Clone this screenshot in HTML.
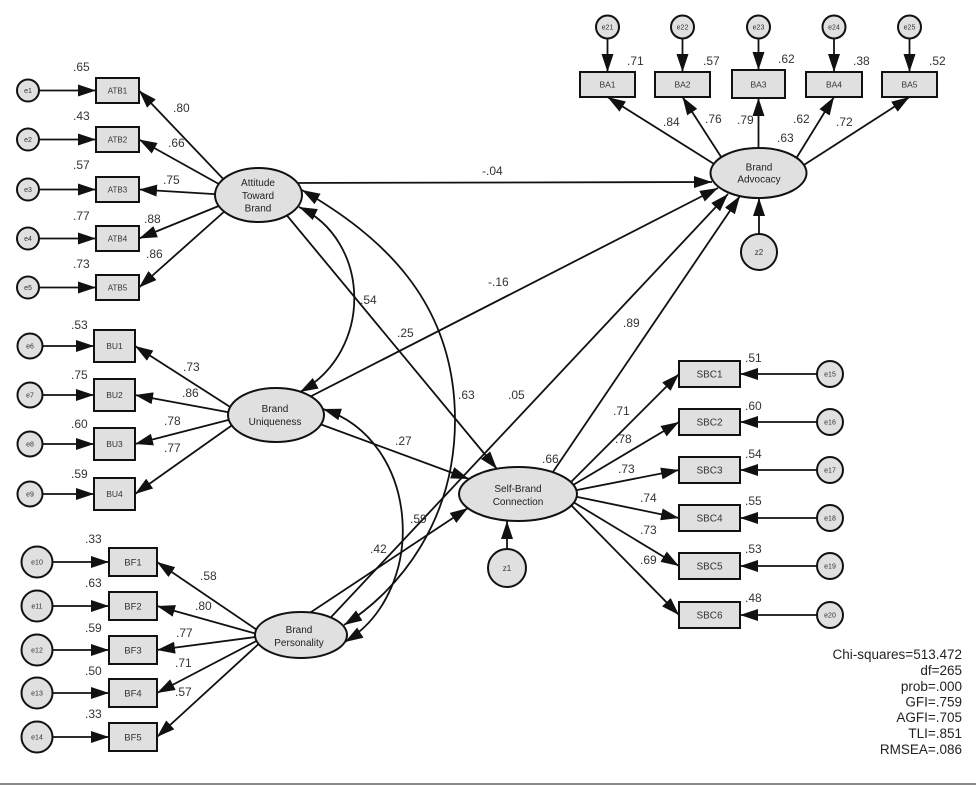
<!DOCTYPE html>
<html>
<head>
<meta charset="utf-8">
<style>
html,body{margin:0;padding:0;background:#fff;}
svg{display:block;}
text{font-family:"Liberation Sans",Arial,sans-serif;}
</style>
</head>
<body>
<svg width="976" height="786" viewBox="0 0 976 786" xmlns="http://www.w3.org/2000/svg">
<defs>
<marker id="ah" viewBox="0 0 18 12" refX="18" refY="6" markerWidth="18" markerHeight="12" markerUnits="userSpaceOnUse" orient="auto-start-reverse">
<path d="M0,0L18,6L0,12z" fill="#111"/>
</marker>
</defs>
<rect x="0" y="0" width="976" height="786" fill="#fff"/>

<!-- straight connectors (drawn under nodes) -->
<g stroke="#111" stroke-width="1.8" fill="none" marker-end="url(#ah)">
<!-- error -> ATB -->
<line x1="28" y1="90.5" x2="96" y2="90.5"/>
<line x1="28" y1="139.5" x2="96" y2="139.5"/>
<line x1="28" y1="189.5" x2="96" y2="189.5"/>
<line x1="28" y1="238.5" x2="96" y2="238.5"/>
<line x1="28" y1="287.5" x2="96" y2="287.5"/>
<!-- error -> BU -->
<line x1="30" y1="346" x2="94" y2="346"/>
<line x1="30" y1="395" x2="94" y2="395"/>
<line x1="30" y1="444" x2="94" y2="444"/>
<line x1="30" y1="494" x2="94" y2="494"/>
<!-- error -> BF -->
<line x1="37" y1="562" x2="109" y2="562"/>
<line x1="37" y1="606" x2="109" y2="606"/>
<line x1="37" y1="650" x2="109" y2="650"/>
<line x1="37" y1="693" x2="109" y2="693"/>
<line x1="37" y1="737" x2="109" y2="737"/>
<!-- error -> SBC -->
<line x1="830" y1="374" x2="740" y2="374"/>
<line x1="830" y1="422" x2="740" y2="422"/>
<line x1="830" y1="470" x2="740" y2="470"/>
<line x1="830" y1="518" x2="740" y2="518"/>
<line x1="830" y1="566" x2="740" y2="566"/>
<line x1="830" y1="615" x2="740" y2="615"/>
<!-- error -> BA -->
<line x1="607.5" y1="27" x2="607.5" y2="72"/>
<line x1="682.5" y1="27" x2="682.5" y2="72"/>
<line x1="758.5" y1="27" x2="758.5" y2="70"/>
<line x1="834" y1="27" x2="834" y2="72"/>
<line x1="909.5" y1="27" x2="909.5" y2="72"/>

<!-- ATB loadings -->
<line x1="229" y1="185" x2="139" y2="90.5"/>
<line x1="226" y1="188" x2="139" y2="139.5"/>
<line x1="223" y1="194.6" x2="139" y2="189.5"/>
<line x1="226" y1="203" x2="139" y2="238.5"/>
<line x1="230.5" y1="206" x2="139" y2="287.5"/>
<!-- BU loadings -->
<line x1="238" y1="412" x2="135" y2="346"/>
<line x1="238" y1="414" x2="135" y2="395"/>
<line x1="238" y1="417.5" x2="135" y2="444"/>
<line x1="238" y1="421" x2="135" y2="494"/>
<!-- BF loadings -->
<line x1="266" y1="636" x2="157" y2="562"/>
<line x1="264" y1="636" x2="157" y2="606"/>
<line x1="263" y1="636" x2="157" y2="650"/>
<line x1="264" y1="637" x2="157" y2="693"/>
<line x1="264" y1="639" x2="157" y2="737"/>
<!-- SBC loadings -->
<line x1="566" y1="487" x2="679" y2="374"/>
<line x1="566.4" y1="489" x2="679" y2="422"/>
<line x1="567" y1="492" x2="679" y2="470"/>
<line x1="568" y1="495" x2="679" y2="518"/>
<line x1="566.5" y1="498" x2="679" y2="566"/>
<line x1="566" y1="500" x2="679" y2="615"/>
<!-- BA loadings -->
<line x1="720.5" y1="168" x2="607.5" y2="97"/>
<line x1="725" y1="163" x2="682.5" y2="97"/>
<line x1="758.5" y1="158" x2="758.5" y2="98"/>
<line x1="793" y1="163.5" x2="834" y2="97"/>
<line x1="798.6" y1="168.4" x2="909.5" y2="97"/>

<!-- structural paths -->
<line x1="285" y1="183" x2="712" y2="182"/>
<line x1="270" y1="195" x2="497" y2="469"/>
<line x1="290" y1="407" x2="718" y2="188"/>
<line x1="319" y1="630" x2="728" y2="194"/>
<line x1="538" y1="494" x2="740" y2="196"/>
<line x1="290" y1="413" x2="469" y2="479"/>
<line x1="284" y1="630" x2="468" y2="508"/>
<line x1="507" y1="568" x2="507" y2="521"/>
<line x1="759" y1="252" x2="759" y2="198"/>
</g>

<!-- nodes -->
<g fill="#e0e0e0" stroke="#111" stroke-width="2">
<!-- ATB -->
<circle cx="28" cy="90.5" r="11"/>
<circle cx="28" cy="139.5" r="11"/>
<circle cx="28" cy="189.5" r="11"/>
<circle cx="28" cy="238.5" r="11"/>
<circle cx="28" cy="287.5" r="11"/>
<rect x="96" y="78" width="43" height="25"/>
<rect x="96" y="127" width="43" height="25"/>
<rect x="96" y="177" width="43" height="25"/>
<rect x="96" y="226" width="43" height="25"/>
<rect x="96" y="275" width="43" height="25"/>
<ellipse cx="258.5" cy="195" rx="43.5" ry="27"/>
<!-- BU -->
<circle cx="30" cy="346" r="12.5"/>
<circle cx="30" cy="395" r="12.5"/>
<circle cx="30" cy="444" r="12.5"/>
<circle cx="30" cy="494" r="12.5"/>
<rect x="94" y="330" width="41" height="32"/>
<rect x="94" y="379" width="41" height="32"/>
<rect x="94" y="428" width="41" height="32"/>
<rect x="94" y="478" width="41" height="32"/>
<ellipse cx="276" cy="415" rx="48" ry="27"/>
<!-- BF -->
<circle cx="37" cy="562" r="15.5"/>
<circle cx="37" cy="606" r="15.5"/>
<circle cx="37" cy="650" r="15.5"/>
<circle cx="37" cy="693" r="15.5"/>
<circle cx="37" cy="737" r="15.5"/>
<rect x="109" y="548" width="48" height="28"/>
<rect x="109" y="592" width="48" height="28"/>
<rect x="109" y="636" width="48" height="28"/>
<rect x="109" y="679" width="48" height="28"/>
<rect x="109" y="723" width="48" height="28"/>
<ellipse cx="301" cy="635" rx="46" ry="23"/>
<!-- SBC -->
<ellipse cx="518" cy="494" rx="59" ry="27"/>
<circle cx="507" cy="568" r="19"/>
<rect x="679" y="361" width="61" height="26"/>
<rect x="679" y="409" width="61" height="26"/>
<rect x="679" y="457" width="61" height="26"/>
<rect x="679" y="505" width="61" height="26"/>
<rect x="679" y="553" width="61" height="26"/>
<rect x="679" y="602" width="61" height="26"/>
<circle cx="830" cy="374" r="13"/>
<circle cx="830" cy="422" r="13"/>
<circle cx="830" cy="470" r="13"/>
<circle cx="830" cy="518" r="13"/>
<circle cx="830" cy="566" r="13"/>
<circle cx="830" cy="615" r="13"/>
<!-- BA -->
<circle cx="607.5" cy="27" r="11.5"/>
<circle cx="682.5" cy="27" r="11.5"/>
<circle cx="758.5" cy="27" r="11.5"/>
<circle cx="834" cy="27" r="11.5"/>
<circle cx="909.5" cy="27" r="11.5"/>
<rect x="580" y="72" width="55" height="25"/>
<rect x="655" y="72" width="55" height="25"/>
<rect x="732" y="70" width="53" height="28"/>
<rect x="806" y="72" width="56" height="25"/>
<rect x="882" y="72" width="55" height="25"/>
<ellipse cx="758.5" cy="173" rx="48" ry="25"/>
<circle cx="759" cy="252" r="18"/>
</g>

<!-- correlation curves -->
<g stroke="#111" stroke-width="1.8" fill="none" marker-start="url(#ah)" marker-end="url(#ah)">
<path d="M299,207 C370,240 375,350 300,392"/>
<path d="M302,190 C380,235 455,300 455,420 C455,520 400,590 344,625"/>
<path d="M323,409 C420,440 430,590 345,642"/>
</g>

<!-- node labels -->
<g fill="#333" text-anchor="middle">
<g font-size="7">
<text x="28" y="93">e1</text>
<text x="28" y="142">e2</text>
<text x="28" y="192">e3</text>
<text x="28" y="241">e4</text>
<text x="28" y="290">e5</text>
<text x="30" y="348.5">e6</text>
<text x="30" y="397.5">e7</text>
<text x="30" y="446.5">e8</text>
<text x="30" y="496.5">e9</text>
<text x="37" y="564.5">e10</text>
<text x="37" y="608.5">e11</text>
<text x="37" y="652.5">e12</text>
<text x="37" y="695.5">e13</text>
<text x="37" y="739.5">e14</text>
<text x="830" y="376.5">e15</text>
<text x="830" y="424.5">e16</text>
<text x="830" y="472.5">e17</text>
<text x="830" y="520.5">e18</text>
<text x="830" y="568.5">e19</text>
<text x="830" y="617.5">e20</text>
<text x="607.5" y="29.5">e21</text>
<text x="682.5" y="29.5">e22</text>
<text x="758.5" y="29.5">e23</text>
<text x="834" y="29.5">e24</text>
<text x="909.5" y="29.5">e25</text>
</g>
<g font-size="8">
<text x="507" y="571">z1</text>
<text x="759" y="255">z2</text>
<text x="117.5" y="93.5">ATB1</text>
<text x="117.5" y="142.5">ATB2</text>
<text x="117.5" y="192.5">ATB3</text>
<text x="117.5" y="241.5">ATB4</text>
<text x="117.5" y="290.5">ATB5</text>
</g>
<g font-size="8.5">
<text x="114.5" y="349">BU1</text>
<text x="114.5" y="398">BU2</text>
<text x="114.5" y="447">BU3</text>
<text x="114.5" y="497">BU4</text>
<text x="607.5" y="87.5">BA1</text>
<text x="682.5" y="87.5">BA2</text>
<text x="758.5" y="87.5">BA3</text>
<text x="834" y="87.5">BA4</text>
<text x="909.5" y="87.5">BA5</text>
</g>
<g font-size="9.5">
<text x="133" y="565.5">BF1</text>
<text x="133" y="609.5">BF2</text>
<text x="133" y="653.5">BF3</text>
<text x="133" y="696.5">BF4</text>
<text x="133" y="740.5">BF5</text>
</g>
<g font-size="10">
<text x="709.5" y="377.5">SBC1</text>
<text x="709.5" y="425.5">SBC2</text>
<text x="709.5" y="473.5">SBC3</text>
<text x="709.5" y="521.5">SBC4</text>
<text x="709.5" y="569.5">SBC5</text>
<text x="709.5" y="618.5">SBC6</text>
</g>
<g font-size="10" fill="#222">
<text x="258" y="186">Attitude</text>
<text x="258" y="199">Toward</text>
<text x="258" y="211.5">Brand</text>
<text x="275" y="412">Brand</text>
<text x="275" y="425">Uniqueness</text>
<text x="299" y="633">Brand</text>
<text x="299" y="646">Personality</text>
<text x="518" y="492">Self-Brand</text>
<text x="518" y="505">Connection</text>
<text x="759" y="170.5">Brand</text>
<text x="759" y="182.5">Advocacy</text>
</g>
</g>

<!-- coefficient labels -->
<g fill="#333" font-size="12">
<text x="73" y="71">.65</text>
<text x="73" y="120">.43</text>
<text x="73" y="169">.57</text>
<text x="73" y="220">.77</text>
<text x="73" y="268">.73</text>
<text x="173" y="112">.80</text>
<text x="168" y="147">.66</text>
<text x="163" y="184">.75</text>
<text x="144" y="223">.88</text>
<text x="146" y="258">.86</text>

<text x="71" y="329">.53</text>
<text x="71" y="379">.75</text>
<text x="71" y="428">.60</text>
<text x="71" y="478">.59</text>
<text x="183" y="371">.73</text>
<text x="182" y="397">.86</text>
<text x="164" y="425">.78</text>
<text x="164" y="452">.77</text>

<text x="85" y="543">.33</text>
<text x="85" y="587">.63</text>
<text x="85" y="632">.59</text>
<text x="85" y="675">.50</text>
<text x="85" y="718">.33</text>
<text x="200" y="580">.58</text>
<text x="195" y="610">.80</text>
<text x="176" y="637">.77</text>
<text x="175" y="667">.71</text>
<text x="175" y="696">.57</text>

<text x="627" y="65">.71</text>
<text x="703" y="65">.57</text>
<text x="778" y="63">.62</text>
<text x="853" y="65">.38</text>
<text x="929" y="65">.52</text>
<text x="663" y="126">.84</text>
<text x="705" y="123">.76</text>
<text x="737" y="124">.79</text>
<text x="793" y="123">.62</text>
<text x="777" y="142">.63</text>
<text x="836" y="126">.72</text>

<text x="745" y="362">.51</text>
<text x="745" y="410">.60</text>
<text x="745" y="458">.54</text>
<text x="745" y="505">.55</text>
<text x="745" y="553">.53</text>
<text x="745" y="602">.48</text>
<text x="613" y="415">.71</text>
<text x="615" y="443">.78</text>
<text x="618" y="473">.73</text>
<text x="640" y="502">.74</text>
<text x="640" y="534">.73</text>
<text x="640" y="564">.69</text>

<text x="482" y="175">-.04</text>
<text x="488" y="286">-.16</text>
<text x="360" y="304">.54</text>
<text x="397" y="337">.25</text>
<text x="458" y="399">.63</text>
<text x="508" y="399">.05</text>
<text x="395" y="445">.27</text>
<text x="542" y="463">.66</text>
<text x="410" y="523">.59</text>
<text x="370" y="553">.42</text>
<text x="623" y="327">.89</text>
</g>

<!-- fit statistics -->
<g fill="#222" font-size="13.5" text-anchor="end">
<text x="962" y="659">Chi-squares=513.472</text>
<text x="962" y="675">df=265</text>
<text x="962" y="691">prob=.000</text>
<text x="962" y="706.5">GFI=.759</text>
<text x="962" y="722">AGFI=.705</text>
<text x="962" y="738">TLI=.851</text>
<text x="962" y="754">RMSEA=.086</text>
</g>

<rect x="0" y="783" width="976" height="2" fill="#8c8c8c"/>
</svg>
</body>
</html>
